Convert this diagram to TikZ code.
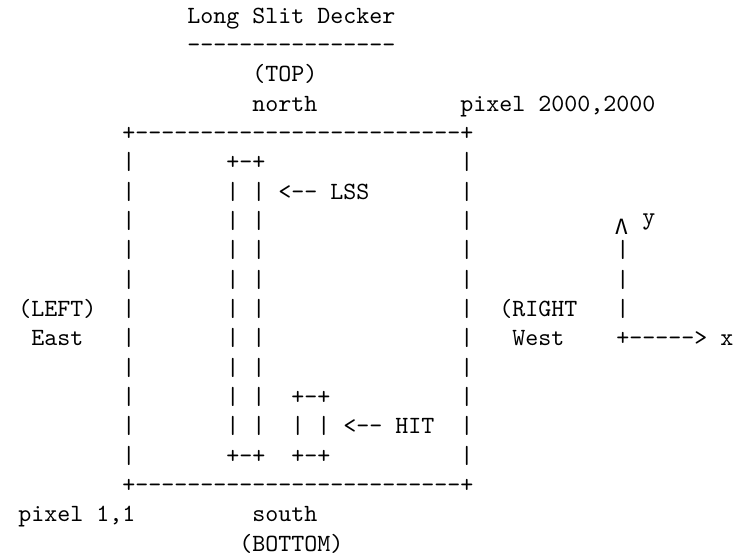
\documentclass[tikz,border=0pt]{standalone}
\usepackage{fontspec}
\usepackage{tikz}
\newfontfamily\greekmono{DejaVu Sans Mono}
\newcommand{\dashrun}[1]{\foreach \k in {1,...,#1}{-\kern0pt}}

\begin{document}
\begin{tikzpicture}[x=5.25pt, y=-11.85pt, txt/.style={anchor=base west, inner sep=0pt, font=\ttfamily}]
\useasboundingbox (-1.385,-0.784) rectangle (55.85,18.16);
\node[txt] (title) at (13,0) {Long Slit Decker};
\node[txt] (rule) at (13,1) {\dashrun{16}};
\node[txt] (top) at (18,2) {(TOP)};
\node[txt] (north) at (18,3) {north};
\node[txt] (pmax) at (34,3) {pixel 2000,2000};
% frame of the decker
\node[txt] (boxtop) at (8,4) {+\dashrun{25}+};
\foreach \r in {5,...,15} {
  \node[txt] (lside\r) at (8,\r) {|};
  \node[txt] (rside\r) at (34,\r) {|};
}
\node[txt] (boxbot) at (8,16) {+\dashrun{25}+};
% long slit
\node[txt] (lsstop) at (16,5) {+-+};
\foreach \r in {6,...,14}
  \node[txt] (lss\r) at (16,\r) {| |};
\node[txt] (lssbot) at (16,15) {+-+};
\node[txt] (lsslab) at (20,6) {<-\kern0pt- LSS};
% hole
\node[txt] (hittop) at (21,13) {+-+};
\node[txt] (hitmid) at (21,14) {| |};
\node[txt] (hitbot) at (21,15) {+-+};
\node[txt] (hitlab) at (25,14) {<-\kern0pt- HIT};
% sides
\node[txt] (left) at (0,10) {(LEFT)};
\node[txt] (east) at (1,11) {East};
\node[txt] (right) at (37,10) {(RIGHT};
\node[txt] (west) at (38,11) {West};
% axes
\node[txt, font=\greekmono\fontsize{8.5}{8.5}\selectfont] (yhead) at (45.9,7.2) {Λ};
\node[txt] (ylab) at (48,6.86) {y};
\foreach \r in {8,9,10}
  \node[txt] (yaxis\r) at (46,\r) {|};
\node[txt] (xaxis) at (46,11) {+\dashrun{5}> x};
% bottom
\node[txt] (pmin) at (0,17) {pixel 1,1};
\node[txt] (south) at (18,17) {south};
\node[txt] (bottom) at (17,18) {(BOTTOM)};
\end{tikzpicture}
\end{document}
